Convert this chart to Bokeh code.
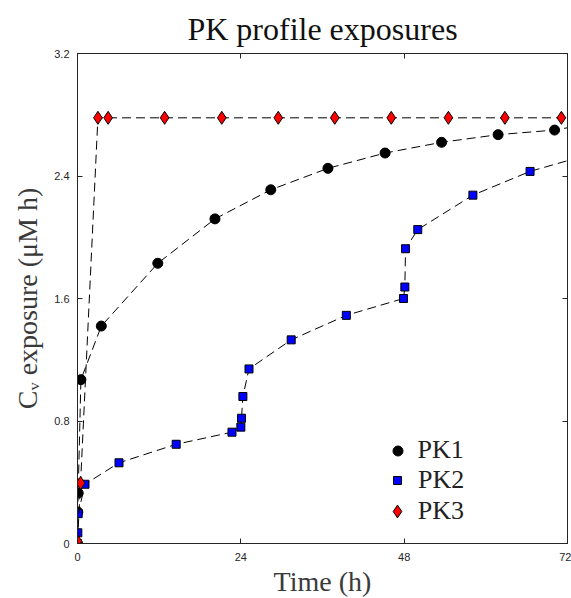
from bokeh.plotting import figure
from bokeh.models import Range1d, LinearAxis, FixedTicker, Legend, LegendItem, CustomJSTickFormatter
from bokeh.embed import file_html
from bokeh.resources import INLINE

# ---- data ----
pk1_t = [0, 0.05, 0.1, 0.5, 3.5, 11.8, 20.2, 28.4, 36.8, 45.2, 53.5, 61.8, 70.1]
pk1_y = [0, 0.205, 0.33, 1.07, 1.42, 1.83, 2.12, 2.31, 2.45, 2.55, 2.62, 2.67, 2.70]
pk1_end_t = [72]
pk1_end_y = [2.715]

pk2_t = [0, 0.05, 0.1, 1.1, 6.1, 14.5, 22.7, 24.0, 24.1, 24.3, 25.2, 31.4, 39.5,
         47.9, 48.1, 48.2, 50.0, 58.1, 66.5]
pk2_y = [0, 0.07, 0.195, 0.387, 0.527, 0.648, 0.727, 0.76, 0.818, 0.96, 1.14, 1.33, 1.49,
         1.60, 1.675, 1.925, 2.05, 2.275, 2.43]
pk2_end_t = [72]
pk2_end_y = [2.50]

pk3_t = [0, 0.45, 3.0, 4.5, 12.8, 21.2, 29.5, 37.8, 46.1, 54.5, 62.8, 71.1]
pk3_y = [0.015, 0.395, 2.78, 2.78, 2.78, 2.78, 2.78, 2.78, 2.78, 2.78, 2.78, 2.78]
pk3_end_t = [72]
pk3_end_y = [2.78]

x_ticks = [0, 24, 48, 72]
y_ticks = [0, 0.8, 1.6, 2.4, 3.2]
series_names = ["PK1", "PK2", "PK3"]

AX = "#262626"

p = figure(frame_width=490, frame_height=490,
           x_range=Range1d(0, 72), y_range=Range1d(0, 3.2),
           output_backend="svg", toolbar_location=None,
           min_border_left=77, min_border_right=4, min_border_top=53, min_border_bottom=55,
           background_fill_color="white", border_fill_color="white")
p.grid.visible = False
p.outline_line_color = AX
p.outline_line_width = 1

p.title.text = "PK profile exposures"
p.title.text_font = "Liberation Serif"
p.title.text_font_size = "32px"
p.title.text_font_style = "normal"
p.title.text_color = "#111111"
p.title.align = "center"
p.title.standoff = 14

def style_axis(ax):
    ax.axis_line_color = AX
    ax.major_tick_line_color = AX
    ax.major_tick_in = 5
    ax.major_tick_out = 0
    ax.minor_tick_line_color = None
    ax.major_label_text_color = AX
    ax.major_label_text_font = "Liberation Sans"
    ax.major_label_text_font_size = "11px"

xa = p.xaxis[0]
ya = p.yaxis[0]
xa.ticker = FixedTicker(ticks=x_ticks)
ya.ticker = FixedTicker(ticks=y_ticks)
style_axis(xa)
style_axis(ya)
xa.major_label_standoff = 9
ya.major_label_standoff = 8
xa.axis_label = "Time (h)"
ya.axis_label = "C\u1d65 exposure (\u03bcM h)"
for ax in (xa, ya):
    ax.axis_label_text_font = "Liberation Serif"
    ax.axis_label_text_font_size = "28px"
    ax.axis_label_text_font_style = "normal"
    ax.axis_label_text_color = "#3a3a3a"
xa.axis_label_standoff = 2
ya.axis_label_standoff = 8

blank = CustomJSTickFormatter(code="return ''")
ra = LinearAxis(ticker=FixedTicker(ticks=y_ticks), formatter=blank)
style_axis(ra)
ra.major_label_standoff = 0
p.add_layout(ra, "right")
ta = LinearAxis(ticker=FixedTicker(ticks=x_ticks), formatter=blank)
style_axis(ta)
ta.major_label_standoff = 0
p.add_layout(ta, "above")

DASH = "9 5"
p.line(pk1_t + pk1_end_t, pk1_y + pk1_end_y, line_color="black", line_width=1, line_dash=DASH)
r1 = p.scatter(pk1_t, pk1_y, marker="circle", size=10, fill_color="black", line_color="black")
p.line(pk2_t + pk2_end_t, pk2_y + pk2_end_y, line_color="black", line_width=1, line_dash=DASH)
r2 = p.scatter(pk2_t, pk2_y, marker="square", size=8, fill_color="#0000ff", line_color="black")
p.line(pk3_t + pk3_end_t, pk3_y + pk3_end_y, line_color="black", line_width=1, line_dash=DASH)
r3 = p.scatter(pk3_t, pk3_y, marker="diamond", size=13, fill_color="#ff0000", line_color="black")

# legend: one Legend per entry so each glyph keeps its own size
frame_left, frame_bottom = 77, 543
glyph_cx, text_x = 397, 418
rows = [(r1, 450, 25), (r2, 480, 20), (r3, 511, 32.5)]
for name, (rend, cy, g) in zip(series_names, rows):
    h = 32
    lg = Legend(items=[LegendItem(label=name, renderers=[rend])],
                location=(glyph_cx - g / 2 - frame_left, frame_bottom - (cy + h / 2)),
                border_line_alpha=0, background_fill_alpha=0,
                padding=0, margin=0, spacing=0,
                glyph_width=int(round(g)), glyph_height=int(round(g)), label_height=h,
                label_standoff=int(round(text_x - (glyph_cx + g / 2))),
                label_text_font="Liberation Serif", label_text_font_size="26px",
                label_text_color="#222222")
    p.add_layout(lg)

open("out.html", "w").write(file_html(p, INLINE))
